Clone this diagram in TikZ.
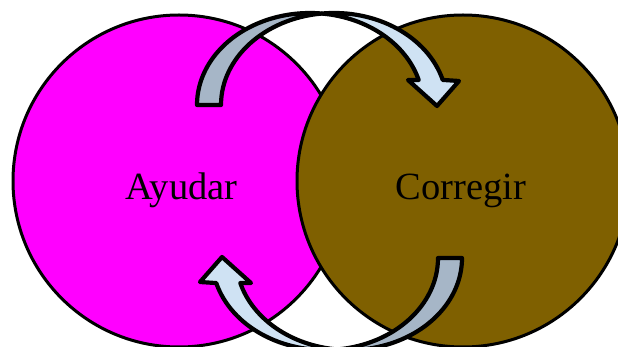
\documentclass[tikz,border=0pt]{standalone}
\usepackage{fontspec}
\setmainfont{Liberation Serif}
\begin{document}
\begin{tikzpicture}[x=1pt,y=-1pt,
  venn/.style={draw=black,line width=3pt},
  label/.style={font=\fontsize{38.5}{42}\selectfont,text=black,anchor=base,inner sep=0pt},
  ribbonback/.style={draw=black,line width=4.2pt,line join=round,fill=backblue},
  ribbonfront/.style={draw=black,line width=4.2pt,line join=round,fill=frontblue},
  arcA/.style={x radius=113,y radius=92},
  bendarrow/.pic={
    % back side of the ribbon: between the two offset ellipses, left half
    \path[ribbonback] (197,105) arc[start angle=180,end angle=276.1,arcA]
      arc[start angle=263.9,end angle=180,arcA] -- cycle;
    % front side of the ribbon ending in the arrow head
    \path[ribbonfront] (322,13.5) arc[start angle=263.9,end angle=344.2,arcA]
      -- (459,81) -- (437,106) -- (408,80) -- (418.7,80)
      arc[start angle=344.2,end angle=276.1,arcA] -- cycle;
  }]
\definecolor{vennpink}{HTML}{FF00FF}
\definecolor{vennbrown}{HTML}{7F6000}
\definecolor{backblue}{HTML}{A6B6C7}
\definecolor{frontblue}{HTML}{CFE2F3}
\useasboundingbox (0,0) rectangle (618,347);

\draw[venn,fill=vennpink] (179,181) circle[radius=166];
\draw[venn,fill=vennbrown] (463,181) circle[radius=166];

\node[label] (ayudar) at (181.5,200) {Ayudar};
\node[label] (corregir) at (461,200) {Corregir};

\pic (toparrow) at (0,0) {bendarrow};
\pic[rotate=180] (bottomarrow) at (659,363) {bendarrow};
\end{tikzpicture}
\end{document}
